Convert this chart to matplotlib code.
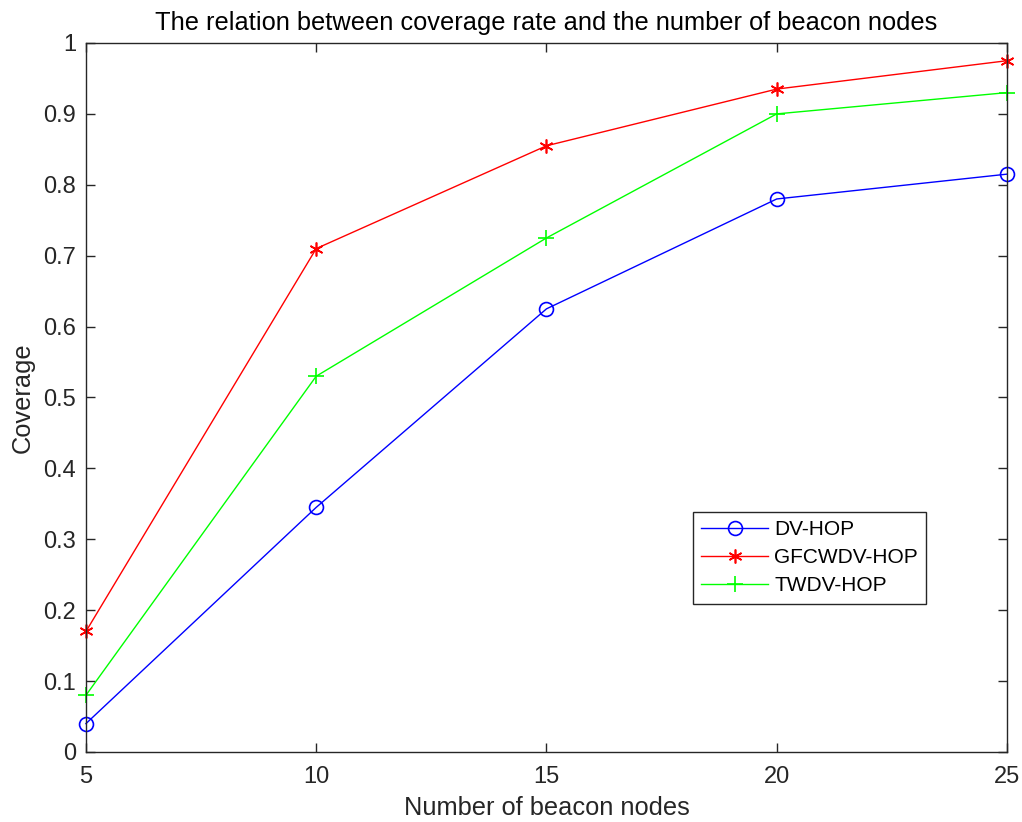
import numpy as np
import matplotlib.pyplot as plt

plt.rcParams['font.family'] = ['Liberation Sans', 'DejaVu Sans']

beacons = [5, 10, 15, 20, 25]
dv_hop = [0.04, 0.345, 0.625, 0.78, 0.815]
gfcwdv_hop = [0.17, 0.71, 0.855, 0.935, 0.975]
twdv_hop = [0.08, 0.53, 0.725, 0.90, 0.93]

fig = plt.figure(figsize=(10.22, 8.22), dpi=100)
ax = fig.add_axes([0.0841, 0.0852, 0.9012, 0.8625])

ax.plot(beacons, dv_hop, color='#0000ff', lw=1, marker='o', ms=10,
        mfc='none', mec='#0000ff', mew=1.2, label='DV-HOP', clip_on=False)
ax.plot(beacons, gfcwdv_hop, color='#ff0000', lw=1, marker=(6, 2, 0), ms=10,
        mec='#ff0000', mew=1.2, label='GFCWDV-HOP', clip_on=False)
ax.plot(beacons, twdv_hop, color='#00ff00', lw=1, marker='+', ms=12,
        mec='#00ff00', mew=1.2, label='TWDV-HOP', clip_on=False)

ax.set_xlim(5, 25)
ax.set_ylim(0, 1)
ax.set_xticks([5, 10, 15, 20, 25])
ax.set_yticks(np.arange(0, 1.01, 0.1))
ax.set_yticklabels(['0', '0.1', '0.2', '0.3', '0.4', '0.5', '0.6', '0.7', '0.8', '0.9', '1'])
ax.tick_params(direction='in', top=True, right=True, length=6.5, width=1,
               colors='#262626', labelsize=17, labelcolor='#262626', pad=7)
ax.tick_params(axis='x', pad=10)
for s in ax.spines.values():
    s.set_color('#262626')
    s.set_linewidth(1)

ax.set_xlabel('Number of beacon nodes', fontsize=18.3, color='#262626', labelpad=6)
ax.set_ylabel('Coverage', fontsize=18.3, color='#262626', labelpad=6)
ax.set_title('The relation between coverage rate and the number of beacon nodes',
             fontsize=18.3, color='black', pad=9)

leg = ax.legend(loc='upper left', bbox_to_anchor=(0.659, 0.3385), borderaxespad=0,
                fontsize=15, fancybox=False, edgecolor='#262626', framealpha=1,
                handlelength=3.2, handletextpad=0.3, borderpad=0.4,
                labelspacing=0.43)
leg.get_frame().set_linewidth(1)

fig.savefig('out.png', dpi=100)
